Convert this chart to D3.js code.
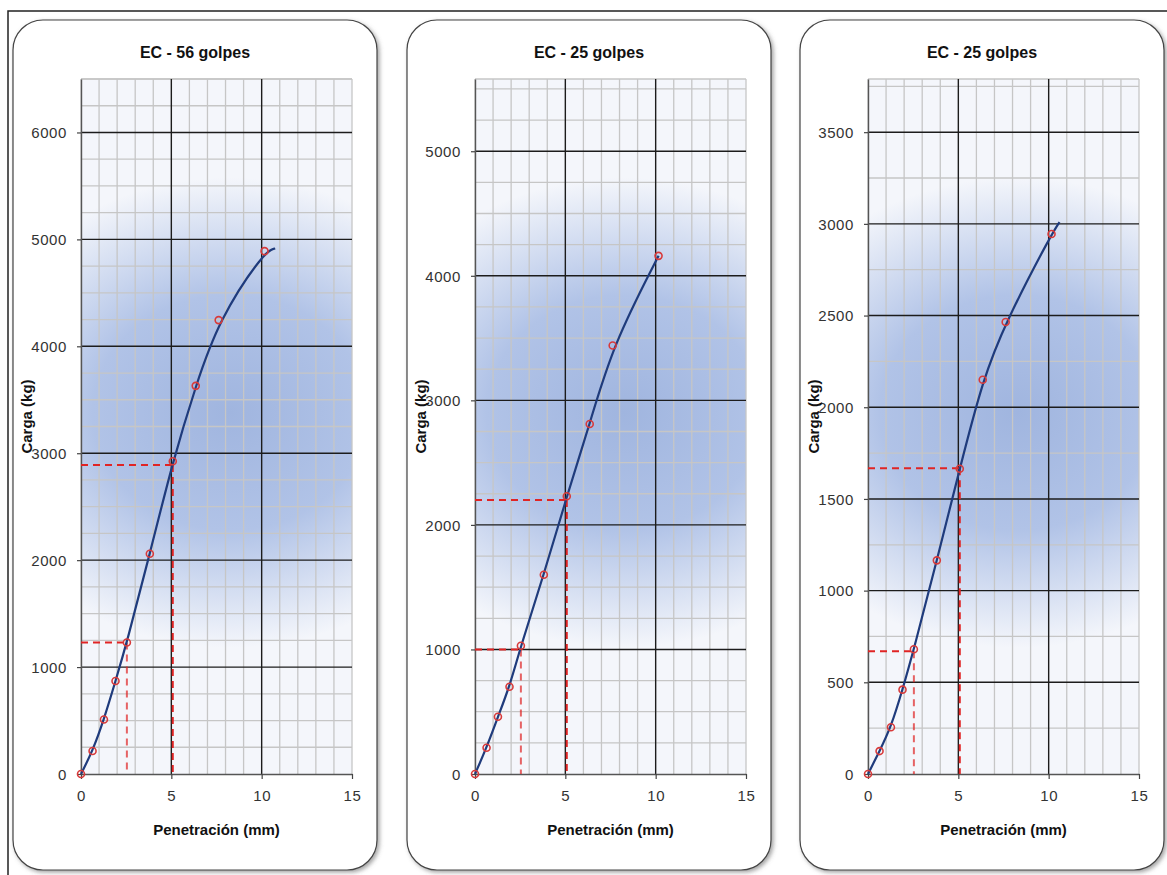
<!DOCTYPE html>
<html>
<head>
<meta charset="utf-8">
<script src="https://cdn.jsdelivr.net/npm/d3@7"></script>
<style>
  body { margin: 0; background: #fff; }
  svg { display: block; font-family: "Liberation Sans", Arial, sans-serif; }
</style>
</head>
<body>
<svg id="chart" width="1167" height="875"></svg>
<script>
// penetraciones estandar CBR (mm)
const penetration = [0, 0.64, 1.27, 1.91, 2.54, 3.81, 5.08, 6.35, 7.62, 10.16];

const titles = ["EC - 56 golpes", "EC - 25 golpes", "EC - 25 golpes"];

const load56 = [0, 215, 510, 870, 1230, 2060, 2925, 3630, 4245, 4890];
const load25a = [0, 211, 460, 700, 1030, 1600, 2230, 2810, 3440, 4160];
const load25b = [0, 125, 255, 460, 680, 1165, 1665, 2150, 2465, 2945];

// final de la curva de ajuste (mm, kg)
const curveEnd = [[10.75, 4915], null, [10.6, 3010]];

// lineas de lectura a 2.54 y 5.08 mm
const refPenetration = [2.54, 5.08];
const refLoad = [[1230, 2890], [1000, 2200], [670, 1668]];

const xTicks = [0, 5, 10, 15];
const yMax = [6500, 5580, 3790];
const yMajorStep = [1000, 1000, 500];
const yMinorStep = 250;

const loads = [load56, load25a, load25b];
const panelX = [13, 407, 800];

const svg = d3.select("#chart");
const defs = svg.append("defs");

const shadow = defs.append("filter").attr("id", "shadow")
    .attr("x", "-5%").attr("y", "-5%").attr("width", "115%").attr("height", "115%");
shadow.append("feDropShadow")
    .attr("dx", 2).attr("dy", 2).attr("stdDeviation", 2)
    .attr("flood-color", "#666").attr("flood-opacity", 0.6);

const grad = defs.append("radialGradient").attr("id", "blob");
grad.append("stop").attr("offset", "0%").attr("stop-color", "#a0b5df");
grad.append("stop").attr("offset", "50%").attr("stop-color", "#b1c3e7");
grad.append("stop").attr("offset", "100%").attr("stop-color", "#f4f6fb");

// marco exterior
svg.append("rect")
    .attr("x", 8).attr("y", 11).attr("width", 1170).attr("height", 880)
    .attr("fill", "none").attr("stroke", "#222").attr("stroke-width", 1.5);

const panelW = 364, panelH = 850, panelTop = 20;
const margin = { top: 59, left: 68 };
const plotW = 271, plotH = 695;

function drawPanel(i) {
    const data = penetration.map((p, k) => ({ x: p, y: loads[i][k] }));

    const g = svg.append("g").attr("transform", `translate(${panelX[i]},${panelTop})`);

    g.append("rect")
        .attr("width", panelW).attr("height", panelH)
        .attr("rx", 30).attr("ry", 30)
        .attr("fill", "#fff").attr("stroke", "#444").attr("stroke-width", 1.2)
        .attr("filter", "url(#shadow)");

    g.append("text")
        .attr("x", panelW / 2).attr("y", 38)
        .attr("text-anchor", "middle")
        .attr("font-size", 16).attr("font-weight", "bold").attr("fill", "#111")
        .text(titles[i]);

    const plot = g.append("g").attr("transform", `translate(${margin.left},${margin.top})`);

    const x = d3.scaleLinear().domain([0, 15]).range([0, plotW]);
    const y = d3.scaleLinear().domain([0, yMax[i]]).range([plotH, 0]);

    const clipId = "clip" + i;
    defs.append("clipPath").attr("id", clipId)
        .append("rect").attr("width", plotW).attr("height", plotH);

    plot.append("rect").attr("width", plotW).attr("height", plotH).attr("fill", "#f4f6fb");

    plot.append("g").attr("clip-path", `url(#${clipId})`)
        .append("ellipse")
        .attr("cx", plotW * 0.55).attr("cy", plotH * 0.48)
        .attr("rx", 275).attr("ry", 235)
        .attr("fill", "url(#blob)");

    // cuadricula
    const yMinor = d3.range(0, yMax[i] + 1, yMinorStep);
    const yMajor = d3.range(0, yMax[i] + 1, yMajorStep[i]);
    const xMinor = d3.range(0, 16, 1);
    const xMajor = [5, 10];

    plot.append("g").selectAll("line")
        .data(yMinor.filter(v => v % yMajorStep[i] !== 0))
        .join("line")
        .attr("x1", 0).attr("x2", plotW)
        .attr("y1", d => y(d)).attr("y2", d => y(d))
        .attr("stroke", "#c6c6c6").attr("stroke-width", 1.3);

    plot.append("g").selectAll("line")
        .data(xMinor.filter(v => !xMajor.includes(v)))
        .join("line")
        .attr("x1", d => x(d)).attr("x2", d => x(d))
        .attr("y1", 0).attr("y2", plotH)
        .attr("stroke", "#c6c6c6").attr("stroke-width", 1.3);

    plot.append("line")
        .attr("x1", 0).attr("x2", plotW).attr("y1", 0).attr("y2", 0)
        .attr("stroke", "#c6c6c6").attr("stroke-width", 1.3);

    plot.append("g").selectAll("line")
        .data(yMajor.filter(v => v > 0))
        .join("line")
        .attr("x1", 0).attr("x2", plotW)
        .attr("y1", d => y(d)).attr("y2", d => y(d))
        .attr("stroke", "#1c1c1c").attr("stroke-width", 1.4);

    plot.append("g").selectAll("line")
        .data(xMajor)
        .join("line")
        .attr("x1", d => x(d)).attr("x2", d => x(d))
        .attr("y1", 0).attr("y2", plotH)
        .attr("stroke", "#1c1c1c").attr("stroke-width", 1.4);

    // ejes
    const xAxis = plot.append("g").attr("transform", `translate(0,${plotH})`)
        .call(d3.axisBottom(x).tickValues(xTicks).tickFormat(d3.format("d"))
            .tickSize(5).tickSizeOuter(0).tickPadding(11));
    const yAxis = plot.append("g")
        .call(d3.axisLeft(y).tickValues(yMajor).tickFormat(d3.format("d"))
            .tickSize(4).tickSizeOuter(0).tickPadding(10));

    [xAxis, yAxis].forEach(a => {
        a.select(".domain").attr("stroke", "#555").attr("stroke-width", 1.4);
        a.selectAll(".tick line").attr("stroke", "#444").attr("stroke-width", 1.2);
        a.selectAll(".tick text")
            .attr("font-family", "'Liberation Sans', Arial, sans-serif")
            .attr("font-size", 15).attr("letter-spacing", 0.6).attr("fill", "#333");
    });
    yAxis.selectAll(".tick text").attr("dy", "0.35em");

    // lineas de lectura
    const ref = plot.append("g").attr("stroke", "#e02424").attr("stroke-width", 2)
        .attr("stroke-dasharray", "7,5").attr("fill", "none");
    refPenetration.forEach((p, k) => {
        const v = refLoad[i][k];
        ref.append("line")
            .attr("x1", x(0)).attr("x2", x(p))
            .attr("y1", y(v)).attr("y2", y(v));
        ref.append("line")
            .attr("x1", x(p)).attr("x2", x(p))
            .attr("y1", y(v)).attr("y2", y(0))
            .attr("stroke-opacity", k === 0 ? 0.7 : 1);
    });

    // curva de ajuste
    const curveData = curveEnd[i] ? data.concat([{ x: curveEnd[i][0], y: curveEnd[i][1] }]) : data;
    const line = d3.line()
        .x(d => x(d.x)).y(d => y(d.y))
        .curve(d3.curveBasis);

    plot.append("path")
        .datum(curveData)
        .attr("d", line)
        .attr("fill", "none")
        .attr("stroke", "#1f3b7c").attr("stroke-width", 2.2);

    plot.append("g").selectAll("circle")
        .data(data)
        .join("circle")
        .attr("cx", d => x(d.x)).attr("cy", d => y(d.y))
        .attr("r", 3.5)
        .attr("fill", "none")
        .attr("stroke", "#d83a3a").attr("stroke-width", 1.6);

    // titulos de ejes
    g.append("text")
        .attr("x", margin.left + plotW / 2).attr("y", 815)
        .attr("text-anchor", "middle")
        .attr("font-size", 15).attr("font-weight", "bold").attr("fill", "#111")
        .text("Penetración (mm)");

    g.append("text")
        .attr("transform", `translate(19,${margin.top + plotH / 2 - 10}) rotate(-90)`)
        .attr("text-anchor", "middle")
        .attr("font-size", 15).attr("font-weight", "bold").attr("fill", "#111")
        .text("Carga (kg)");
}

[0, 1, 2].forEach(drawPanel);
</script>
</body>
</html>
